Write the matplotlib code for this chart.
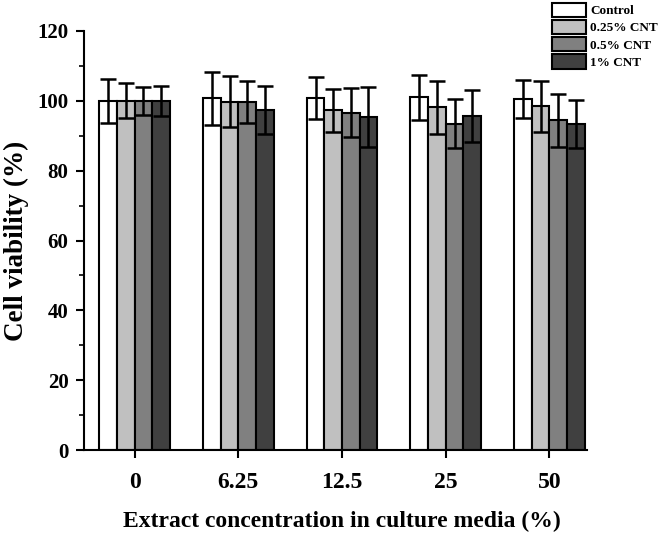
import numpy as np
import matplotlib
matplotlib.use("Agg")
import matplotlib.pyplot as plt

categories = ["0", "6.25", "12.5", "25", "50"]
series = ["Control", "0.25% CNT", "0.5% CNT", "1% CNT"]
colors = ["#ffffff", "#c0c0c0", "#808080", "#404040"]
values = [
    [100.0, 100.7, 100.7, 101.0, 100.6],
    [100.0, 99.7, 97.3, 98.1, 98.5],
    [100.0, 99.7, 96.6, 93.4, 94.4],
    [100.0, 97.4, 95.4, 95.6, 93.4],
]
errors = [
    [6.3, 7.7, 6.0, 6.4, 5.5],
    [5.0, 7.3, 6.1, 7.5, 7.3],
    [4.0, 6.0, 7.0, 7.0, 7.7],
    [4.3, 6.8, 8.5, 7.4, 6.9],
]

plt.rcParams['font.family'] = ['Liberation Serif', 'DejaVu Serif']
plt.rcParams['font.weight'] = 'bold'

fig = plt.figure(figsize=(6.6, 5.39), dpi=100)
ax = fig.add_axes([0.127, 0.165, 0.762, 0.7775])

x = np.arange(len(categories))
w = 0.17
for i, (s, c) in enumerate(zip(series, colors)):
    pos = x + (i - 1.5) * w
    ax.bar(pos, values[i], w, color=c, edgecolor='black', linewidth=1.5, label=s, zorder=2)
    ax.errorbar(pos, values[i], yerr=errors[i], fmt='none', ecolor='black',
                elinewidth=1.8, capsize=6, capthick=1.8, zorder=3)

ax.set_xlim(-0.49, 4.36)
ax.set_ylim(0, 120)
ax.set_xticks(x)
ax.set_xticklabels(categories)
ax.set_yticks(np.arange(0, 121, 20))
ax.set_yticks(np.arange(0, 121, 10), minor=True)
ax.spines['top'].set_visible(False)
ax.spines['right'].set_visible(False)
for sp in ['left', 'bottom']:
    ax.spines[sp].set_linewidth(1.5)
ax.tick_params(axis='y', which='major', direction='out', length=6, width=1.5,
               labelsize=15, pad=5)
ax.tick_params(axis='x', which='major', direction='out', length=6, width=1.5,
               labelsize=17, pad=10)
ax.tick_params(axis='y', which='minor', direction='out', length=3.5, width=1.2)
for lab in ax.get_xticklabels() + ax.get_yticklabels():
    lab.set_fontweight('bold')

ax.set_ylabel("Cell viability (%)", fontsize=19.5, fontweight='bold', labelpad=6)
ax.set_xlabel("Extract concentration in culture media (%)", fontsize=17,
              fontweight='bold')
ax.xaxis.set_label_coords(0.513, -0.145)

leg = fig.legend(loc='upper left', bbox_to_anchor=(0.828, 1.005), frameon=False,
                 prop={'size': 9.5, 'weight': 'bold'}, handlelength=2.6, handleheight=1.3,
                 handletextpad=0.3, labelspacing=0.2, borderaxespad=0)
for h in leg.legend_handles:
    h.set_linewidth(1.5)

fig.savefig("out.png", dpi=100)
